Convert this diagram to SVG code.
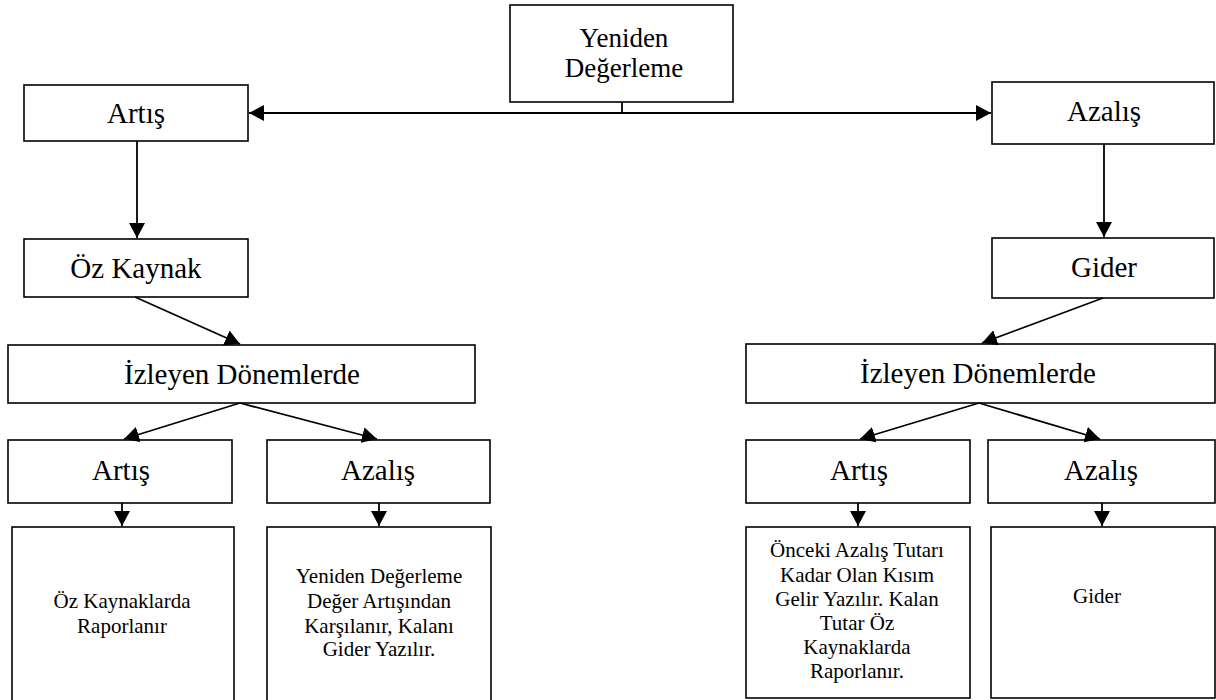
<svg xmlns="http://www.w3.org/2000/svg" width="1216" height="700" viewBox="0 0 1216 700">
<style>
rect{fill:#fff;stroke:#000;stroke-width:1.6}
text{font-family:"Liberation Serif","Times New Roman",serif;fill:#000;text-anchor:middle}
.b{font-size:29px}
.t{font-size:27px}
.s{font-size:21px}
.c line{stroke:#000;stroke-width:1.8;fill:none}
</style>
<defs>
<marker id="ah" markerUnits="userSpaceOnUse" markerWidth="16" markerHeight="16" refX="15" refY="8" orient="auto-start-reverse"><path d="M0,0 L15,8 L0,16 z" fill="#000"/></marker>
</defs>
<g id="n-top"><rect x="510" y="5" width="223" height="97"/><text class="t" x="624" y="47">Yeniden</text><text class="t" x="624" y="77">Değerleme</text></g>
<g id="n-artis"><rect x="24" y="85" width="224" height="56"/><text class="b" x="136" y="123">Artış</text></g>
<g id="n-azalis"><rect x="992" y="82" width="222" height="62"/><text class="b" x="1104" y="121">Azalış</text></g>
<g id="n-ozkaynak"><rect x="24" y="239" width="224" height="58"/><text class="b" x="136" y="278">Öz Kaynak</text></g>
<g id="n-gider"><rect x="992" y="238" width="222" height="60"/><text class="b" x="1104" y="277">Gider</text></g>
<g id="n-izl"><rect x="8" y="345" width="467" height="58"/><text class="b" x="242" y="384">İzleyen Dönemlerde</text></g>
<g id="n-izr"><rect x="746" y="344" width="469" height="59"/><text class="b" x="978" y="383">İzleyen Dönemlerde</text></g>
<g id="n-la"><rect x="8" y="440" width="224" height="63"/><text class="b" x="121" y="480">Artış</text></g>
<g id="n-lz"><rect x="267" y="440" width="223" height="63"/><text class="b" x="378" y="480">Azalış</text></g>
<g id="n-ra"><rect x="746" y="440" width="224" height="63"/><text class="b" x="859" y="480">Artış</text></g>
<g id="n-rz"><rect x="988" y="440" width="227" height="63"/><text class="b" x="1101" y="480">Azalış</text></g>
<g id="n-lab"><rect x="12" y="527" width="222" height="180"/><text class="s" x="122" y="608">Öz Kaynaklarda</text><text class="s" x="122" y="633">Raporlanır</text></g>
<g id="n-lzb"><rect x="267" y="527" width="224" height="180"/><text class="s" x="379" y="583">Yeniden Değerleme</text><text class="s" x="379" y="608">Değer Artışından</text><text class="s" x="379" y="633">Karşılanır, Kalanı</text><text class="s" x="379" y="656">Gider Yazılır.</text></g>
<g id="n-rab"><rect x="746" y="527" width="224" height="171"/><text class="s" x="857" y="557">Önceki Azalış Tutarı</text><text class="s" x="857" y="582">Kadar Olan Kısım</text><text class="s" x="857" y="606">Gelir Yazılır. Kalan</text><text class="s" x="857" y="630">Tutar Öz</text><text class="s" x="857" y="654">Kaynaklarda</text><text class="s" x="857" y="678">Raporlanır.</text></g>
<g id="n-rzb"><rect x="991" y="527" width="224" height="171"/><text class="s" x="1097" y="603">Gider</text></g>
<g class="c" id="connectors">
<line x1="622" y1="102" x2="622" y2="113"/>
<line x1="249" y1="113" x2="991" y2="113" marker-start="url(#ah)" marker-end="url(#ah)"/>
<line x1="137" y1="141" x2="137" y2="238" marker-end="url(#ah)"/>
<line x1="1104" y1="144" x2="1104" y2="237" marker-end="url(#ah)"/>
<line x1="135" y1="297" x2="240" y2="344" marker-end="url(#ah)"/>
<line x1="1103" y1="298" x2="982" y2="343" marker-end="url(#ah)"/>
<line x1="240" y1="403" x2="124" y2="439" marker-end="url(#ah)"/>
<line x1="240" y1="403" x2="377" y2="439" marker-end="url(#ah)"/>
<line x1="979" y1="403" x2="860" y2="439" marker-end="url(#ah)"/>
<line x1="979" y1="403" x2="1100" y2="439" marker-end="url(#ah)"/>
<line x1="122" y1="503" x2="122" y2="526" marker-end="url(#ah)"/>
<line x1="379" y1="503" x2="379" y2="526" marker-end="url(#ah)"/>
<line x1="858" y1="503" x2="858" y2="526" marker-end="url(#ah)"/>
<line x1="1102" y1="503" x2="1102" y2="526" marker-end="url(#ah)"/>
</g>
</svg>
